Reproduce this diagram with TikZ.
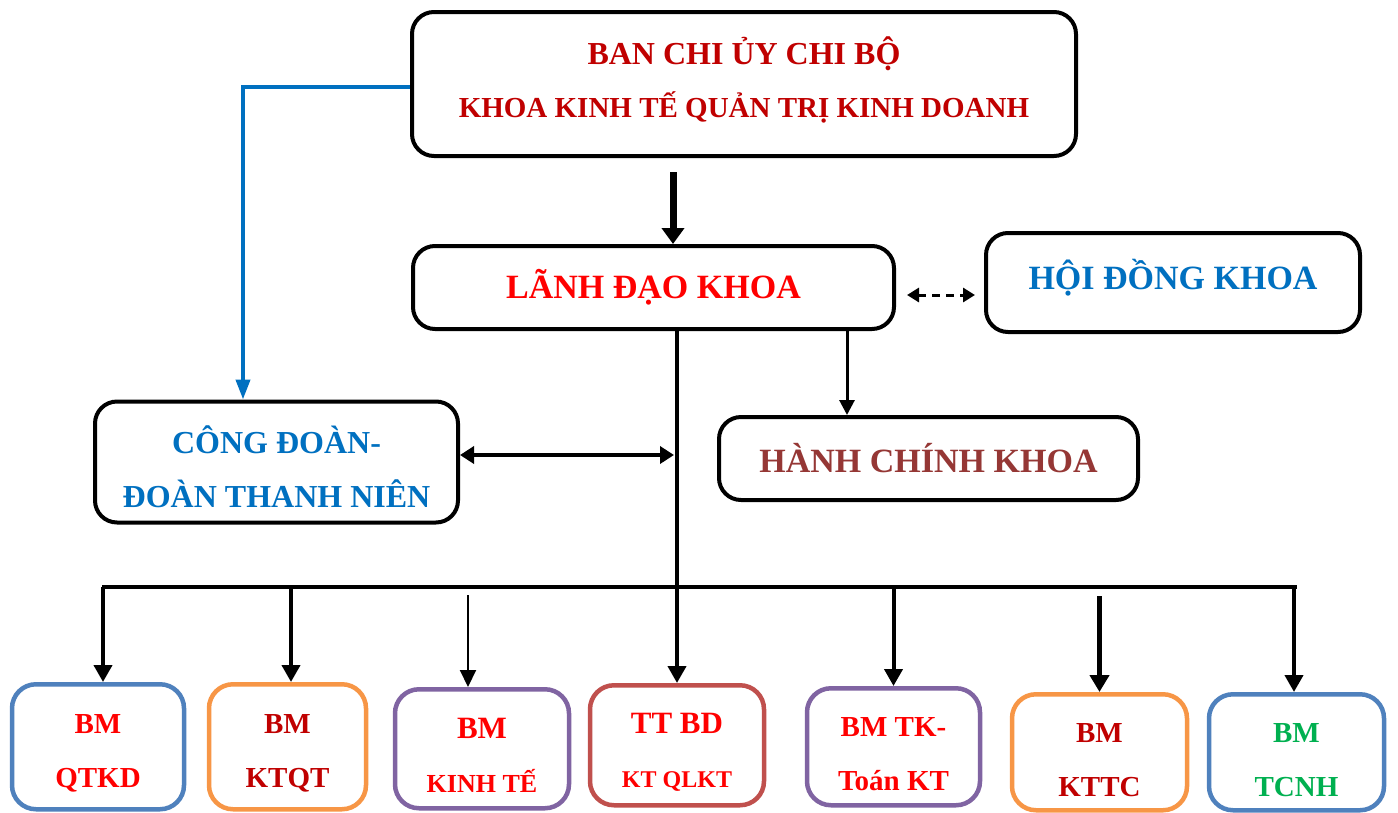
\documentclass[tikz,border=0pt]{standalone}
\usepackage{fontspec}
\setmainfont{Liberation Serif}
\usepackage{tikz}
\usetikzlibrary{shapes.geometric, arrows.meta}

\definecolor{darkRed}{HTML}{C00000}
\definecolor{brightRed}{HTML}{FF0000}
\definecolor{deptBlue}{HTML}{0070C0}
\definecolor{adminBrown}{HTML}{953735}
\definecolor{bankGreen}{HTML}{00B050}
\definecolor{edgeBlue}{HTML}{4F81BD}
\definecolor{edgeOrange}{HTML}{F79646}
\definecolor{edgePurple}{HTML}{8064A2}
\definecolor{edgeRed}{HTML}{C0504D}
\newcommand{\topgap}[1]{\rule{0pt}{#1}}
\newcommand{\lowgap}[1]{\rule[-#1]{0pt}{0pt}}

\begin{document}
\begin{tikzpicture}[x=1pt, y=-1pt]
	\tikzstyle{unit} = [rectangle, rounded corners=22pt, line width=4pt, 
	draw=black, fill=white, text centered, align=center, 
	font=\fontsize{34}{54}\selectfont\bfseries]
	\tikzstyle{dept} = [rectangle, rounded corners=24pt, line width=4.5pt, 
	anchor=north, fill=white, text centered, align=center, 
	font=\fontsize{29}{54}\selectfont\bfseries]
	\tikzstyle{arrow} = [line width=4pt, -{Triangle[length=17pt, width=18pt]}]
	\tikzstyle{link} = [line width=4pt]
	\useasboundingbox (0,0) rectangle (1398,812);
	% upper levels
	\node (chiBo) [unit, minimum width=664pt, minimum height=144pt, 
	text=darkRed, font=\fontsize{29}{53}\selectfont\bfseries] at (744,84) 
	{{\fontsize{32}{53}\selectfont BAN CHI ỦY CHI BỘ}\\KHOA KINH TẾ QUẢN TRỊ KINH DOANH\lowgap{13pt}};
	\node (lanhDao) [unit, minimum width=481pt, minimum height=83pt, 
	text=brightRed] at (653.5,287.5) {LÃNH ĐẠO KHOA};
	\node (hoiDong) [unit, minimum width=374pt, minimum height=99pt, 
	text=deptBlue, text depth=16pt] at (1173,282.5) {HỘI ĐỒNG KHOA};
	\node (hanhChinh) [unit, minimum width=419pt, minimum height=83pt, 
	text=adminBrown] at (928.5,458.5) {HÀNH CHÍNH KHOA};
	\node (congDoan) [unit, minimum width=363pt, minimum height=121pt, 
	text=deptBlue, font=\fontsize{32}{54}\selectfont\bfseries] at (276.5,462) 
	{\topgap{37pt}CÔNG ĐOÀN-\\ĐOÀN THANH NIÊN};
	% bo mon
	\node (qtkd) [dept, draw=edgeBlue, text=brightRed, minimum width=172pt, 
	minimum height=125pt] at (98,682) {\topgap{32pt}BM\\QTKD};
	\node (ktqt) [dept, draw=edgeOrange, text=darkRed, minimum width=157pt, 
	minimum height=125pt] at (287.5,682) {\topgap{32pt}BM\\KTQT};
	\node (kinhTe) [dept, draw=edgePurple, text=brightRed, minimum width=174pt, 
	minimum height=119pt] at (482,687) 
	{{\fontsize{31}{48}\selectfont\topgap{33pt}BM}\\{\fontsize{26}{48}\selectfont KINH TẾ}};
	\node (ttbd) [dept, draw=edgeRed, text=brightRed, minimum width=174pt, 
	minimum height=120pt] at (677,683) 
	{{\fontsize{31}{50}\selectfont\topgap{35pt}TT BD}\\{\fontsize{24}{50}\selectfont KT QLKT}};
	\node (tkToan) [dept, draw=edgePurple, text=brightRed, minimum width=173pt, 
	minimum height=117pt] at (893.5,686) {\topgap{33pt}BM TK-\\Toán KT};
	\node (kttc) [dept, draw=edgeOrange, text=darkRed, minimum width=175pt, 
	minimum height=116pt] at (1099.5,692) {\topgap{34pt}BM\\KTTC};
	\node (tcnh) [dept, draw=edgeBlue, text=bankGreen, minimum width=175pt, 
	minimum height=116pt] at (1296.5,692) {\topgap{34pt}BM\\TCNH};
	\coordinate (barLeft) at (102,587);
	\coordinate (barRight) at (1297,587);
	% connectors
	\draw [link, deptBlue, -{Triangle[length=20pt, width=14pt]}] 
	([yshift=-3pt]chiBo.west) -| ([xshift=-33.5pt]congDoan.north);
	\draw [line width=7pt, -{Triangle[length=16pt, width=22pt]}, shorten <=14pt] 
	([xshift=-71pt]chiBo.south) -- ([xshift=-71pt]chiBo.south |- lanhDao.north);
	\draw [line width=3pt, dash pattern=on 8pt off 6pt, 
	{Triangle[length=12pt, width=14pt]}-{Triangle[length=12pt, width=14pt]}, 
	shorten <=11pt, shorten >=9pt] 
	([yshift=-7.5pt]lanhDao.east) -- ([yshift=-7.5pt]lanhDao.east -| hoiDong.west);
	\draw [line width=3pt, -{Triangle[length=15pt, width=15pt]}] 
	([xshift=193.5pt]lanhDao.south) -- ([xshift=193.5pt]lanhDao.south |- hanhChinh.north);
	\draw [arrow] (ttbd.north |- lanhDao.south) -- (ttbd.north);
	\draw [line width=4pt, {Triangle[length=14pt, width=17pt]}-{Triangle[length=14pt, width=17pt]}, 
	shorten >=3pt] ([yshift=7pt]congDoan.east) -- ([yshift=7pt]congDoan.east -| ttbd.north);
	\draw [link] (barLeft) -- (barRight);
	\draw [arrow] ([xshift=5pt]qtkd.north |- barLeft) -- ([xshift=5pt]qtkd.north);
	\draw [arrow] ([xshift=3.5pt]ktqt.north |- barLeft) -- ([xshift=3.5pt]ktqt.north);
	\draw [line width=2pt, -{Triangle[length=17pt, width=16pt]}, shorten <=8pt] 
	([xshift=-14pt]kinhTe.north |- barLeft) -- ([xshift=-14pt]kinhTe.north);
	\draw [arrow] (tkToan.north |- barLeft) -- (tkToan.north);
	\draw [line width=5pt, -{Triangle[length=17pt, width=19pt]}, shorten <=9pt] 
	(kttc.north |- barLeft) -- (kttc.north);
	\draw [arrow] ([xshift=-2.5pt]tcnh.north |- barRight) -- ([xshift=-2.5pt]tcnh.north);
\end{tikzpicture}
\end{document}
